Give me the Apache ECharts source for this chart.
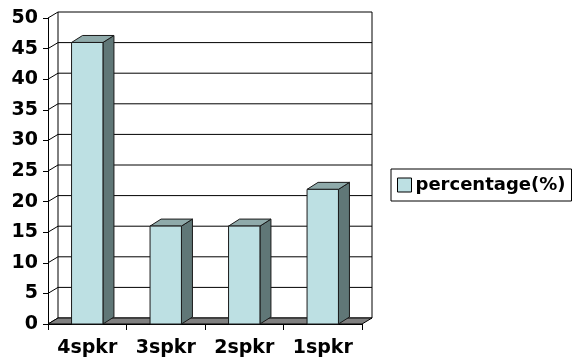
<!DOCTYPE html>
<html>
<head>
<meta charset="utf-8">
<script src="https://cdn.jsdelivr.net/npm/echarts@6/dist/echarts.min.js"></script>
<style>
  html, body { margin: 0; padding: 0; background: #fff; }
  #chart { width: 585px; height: 361px; }
</style>
</head>
<body>
<div id="chart"></div>
<script>
const categories = ["4spkr", "3spkr", "2spkr", "1spkr"];
const percentage = [46, 16, 16, 22];
const yTicks = [0, 5, 10, 15, 20, 25, 30, 35, 40, 45, 50];

// depth of the fake 3d box
const wallDx = 10, wallDy = 6;
const barDx = 11, barDy = 7;
const font = "DejaVu Sans";

const chart = echarts.init(document.getElementById("chart"));

// back wall grid lines + left wall slanted lines
function renderWall(params, api) {
  const cs = params.coordSys;
  const y = api.coord([0, api.value(1)])[1];
  const line = { stroke: "#000", lineWidth: 1 };
  return {
    type: "group",
    children: [
      { type: "line", shape: { x1: cs.x, y1: y, x2: cs.x + wallDx, y2: y - wallDy }, style: line },
      { type: "line", shape: { x1: cs.x + wallDx, y1: y - wallDy, x2: cs.x + cs.width + wallDx, y2: y - wallDy }, style: line }
    ]
  };
}

// floor + back wall edges
function renderFloor(params, api) {
  const cs = params.coordSys;
  const yTop = api.coord([0, yTicks[yTicks.length - 1]])[1];
  const yBase = api.coord([0, 0])[1];
  const line = { stroke: "#000", lineWidth: 1 };
  return {
    type: "group",
    children: [
      { type: "line", shape: { x1: cs.x + wallDx, y1: yTop - wallDy, x2: cs.x + wallDx, y2: yBase - wallDy }, style: line },
      { type: "line", shape: { x1: cs.x + cs.width + wallDx, y1: yTop - wallDy, x2: cs.x + cs.width + wallDx, y2: yBase - wallDy }, style: line },
      {
        type: "polygon",
        shape: { points: [
          [cs.x, yBase], [cs.x + cs.width, yBase],
          [cs.x + cs.width + wallDx, yBase - wallDy], [cs.x + wallDx, yBase - wallDy]
        ] },
        style: { fill: "#808080", stroke: "#000", lineWidth: 1 }
      }
    ]
  };
}

function renderBar(params, api) {
  const top = api.coord([api.value(0), api.value(1)]);
  const base = api.coord([api.value(0), 0]);
  const w = api.size([1, 0])[0] * 0.4;
  const x0 = top[0] - w / 2, x1 = x0 + w;
  const ty = top[1], by = base[1];
  const edge = { stroke: "#1a1a1a", lineWidth: 1 };
  return {
    type: "group",
    children: [
      {
        type: "polygon",
        shape: { points: [[x1, ty], [x1 + barDx, ty - barDy], [x1 + barDx, by - barDy], [x1, by]] },
        style: Object.assign({ fill: "#607777" }, edge)
      },
      {
        type: "polygon",
        shape: { points: [[x0, ty], [x0 + barDx, ty - barDy], [x1 + barDx, ty - barDy], [x1, ty]] },
        style: Object.assign({ fill: "#8FAAAA" }, edge)
      },
      {
        type: "rect",
        shape: { x: x0, y: ty, width: w, height: by - ty },
        style: Object.assign({ fill: "#BDE0E3" }, edge)
      }
    ]
  };
}

const option = {
  animation: false,
  backgroundColor: "#fff",
  grid: { left: 48, right: 223, top: 18, bottom: 37 },
  legend: {
    data: ["percentage(%)"],
    left: 391,
    top: 169,
    orient: "vertical",
    padding: [7, 6, 7, 6],
    borderColor: "#000",
    borderWidth: 1,
    itemWidth: 14,
    itemHeight: 14,
    itemGap: 0,
    icon: "rect",
    itemStyle: { borderColor: "#000", borderWidth: 1 },
    textStyle: { fontFamily: font, fontWeight: "bold", fontSize: 18, color: "#000", padding: [0, 0, 0, -1] }
  },
  xAxis: {
    type: "category",
    data: categories,
    boundaryGap: true,
    axisLine: { show: true, lineStyle: { color: "#000", width: 1 } },
    axisTick: { show: true, alignWithLabel: false, length: 6, lineStyle: { color: "#000" } },
    axisLabel: { margin: 15, fontFamily: font, fontWeight: "bold", fontSize: 19, color: "#000" },
    splitLine: { show: false }
  },
  yAxis: {
    type: "value",
    min: 0,
    max: 50,
    interval: 5,
    axisLine: { show: true, lineStyle: { color: "#000", width: 1 } },
    axisTick: { show: true, length: 5, lineStyle: { color: "#000" } },
    axisLabel: { margin: 10, fontFamily: font, fontWeight: "bold", fontSize: 19, color: "#000" },
    splitLine: { show: false }
  },
  series: [
    {
      type: "custom",
      renderItem: renderWall,
      data: yTicks.map(v => [0, v]),
      encode: { x: 0, y: 1 },
      silent: true,
      z: 1
    },
    {
      type: "custom",
      renderItem: renderFloor,
      data: [[0, 0]],
      encode: { x: 0, y: 1 },
      silent: true,
      z: 2
    },
    {
      name: "percentage(%)",
      type: "custom",
      renderItem: renderBar,
      data: percentage.map((v, i) => [i, v]),
      encode: { x: 0, y: 1 },
      itemStyle: { color: "#BDE0E3" },
      z: 3
    }
  ]
};

chart.setOption(option);
</script>
</body>
</html>
